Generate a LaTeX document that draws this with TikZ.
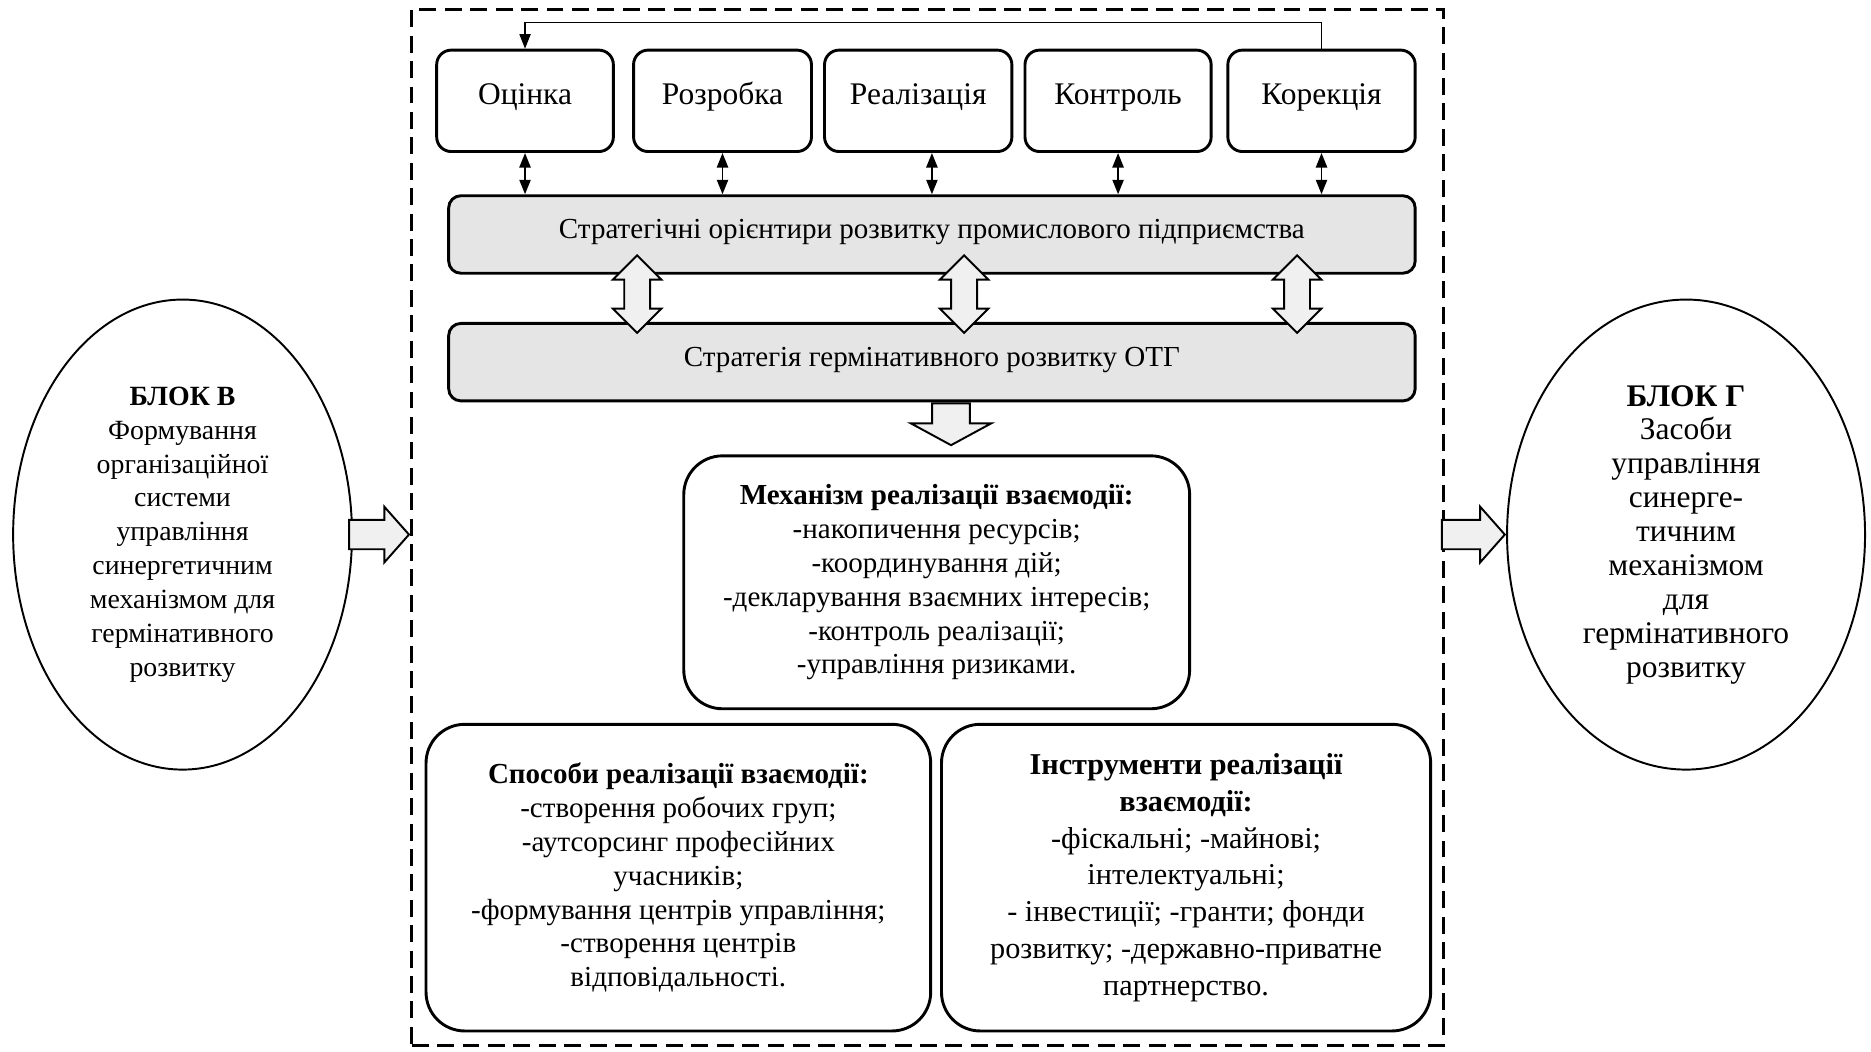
\documentclass[tikz,border=0pt]{standalone}
\usepackage{fontspec}
\setmainfont{Liberation Serif}
\usetikzlibrary{arrows.meta,shapes.geometric,shapes.arrows}
\tikzset{
	stage/.style={
		rectangle,
		rounded corners=6pt,
		draw=black, very thick,
		minimum height=41.9pt,
		inner sep=2pt,
		text height=10pt, text depth=6.6pt,
		font=\fontsize{13}{15}\selectfont,
	},
	strat/.style={
		rectangle,
		rounded corners=5pt,
		draw=black, very thick,
		fill=black!10,
		minimum width=399.3pt, minimum height=32pt,
		text height=10pt, text depth=6.6pt,
		font=\fontsize{12}{14}\selectfont,
	},
	info/.style={
		rectangle,
		rounded corners=16pt,
		draw=black, very thick,
		align=center,
		inner sep=0pt,
		font=\fontsize{12}{14}\selectfont,
	},
	block/.style={
		ellipse,
		draw=black, thick,
		align=center,
		inner sep=0pt,
		minimum height=194.2pt,
	},
	twoway/.style={
		double arrow,
		draw=black, thick,
		fill=black!6,
		rotate=90,
		inner sep=0pt,
		text height=9.9pt, text depth=0pt,
		minimum height=32pt, minimum width=19.2pt,
		double arrow head extend=4.65pt,
	},
	oneway/.style={
		single arrow,
		draw=black, thick,
		fill=black!6,
		inner sep=0pt,
		text height=11.3pt, text depth=0pt,
		minimum width=22.2pt,
		single arrow head extend=5.45pt,
		single arrow tip angle=97,
	},
	frame/.style={
		rectangle,
		draw=black, very thick,
		dash pattern=on 7pt off 3.5pt,
		inner sep=0pt,
	},
}

\begin{document}
\begin{tikzpicture}[x=0.493pt,y=-0.493pt,>={Triangle[length=6pt,width=4.6pt]}]
	\useasboundingbox (0,0) rectangle (1568,880.8);
	
	% dashed frame round the middle part
	\node[frame, minimum width=426.4pt, minimum height=427.9pt] (frame) at (777.5,442) {};
	
	% row of stages
	\node[stage, minimum width=73pt] (ocin) at (440,84.5) {Оцінка};
	\node[stage, minimum width=73.5pt] (rozr) at (605.5,84.5) {Розробка};
	\node[stage, minimum width=77.4pt] (real) at (769.5,84.5) {Реалізація};
	\node[stage, minimum width=76.9pt] (kontr) at (937,84.5) {Контроль};
	\node[stage, minimum width=77.4pt] (korek) at (1107.5,84.5) {Корекція};
	
	% strategy boxes
	\node[strat] (orient) at (781,196.5) {Стратегічні орієнтири розвитку промислового підприємства};
	\node[strat] (germ) at (781,303.5) {Стратегія гермінативного розвитку ОТГ};
	
	% mechanism, ways and tools
	\node[info, minimum width=209pt, minimum height=104.5pt] (mech) at (785,488)
	{
		\textbf{Механізм реалізації взаємодії:}\\
		-накопичення ресурсів;\\
		-координування дій;\\
		-декларування взаємних інтересів;\\
		-контроль реалізації;\\
		-управління ризиками.
	};
	
	\node[info, minimum width=208.5pt, minimum height=126.7pt] (ways) at (568.5,735.5)
	{
		\textbf{Способи реалізації взаємодії:}\\
		-створення робочих груп;\\
		-аутсорсинг професійних\\
		учасників;\\
		-формування центрів управління;\\
		-створення центрів\\
		відповідальності.
	};
	
	\node[info, minimum width=202.1pt, minimum height=126.7pt,
	font=\fontsize{12.5}{15.2}\selectfont] (tools) at (994,735.5)
	{
		\textbf{Інструменти реалізації}\\
		\textbf{взаємодії:}\\
		-фіскальні; -майнові;\\
		інтелектуальні;\\
		- інвестиції; -гранти; фонди\\
		розвитку; -державно-приватне\\
		партнерство.
	};
	
	% side blocks
	\node[block, minimum width=140pt, font=\fontsize{11.5}{14}\selectfont] (blockv) at (153,448)
	{
		\textbf{БЛОК В}\\
		Формування\\
		організаційної\\
		системи\\
		управління\\
		синергетичним\\
		механізмом для\\
		гермінативного\\
		розвитку
	};
	
	\node[block, minimum width=147.9pt, font=\fontsize{13}{14}\selectfont] (blockg) at (1413,448)
	{
		\textbf{БЛОК Г}\\
		Засоби\\
		управління\\
		синерге-\\
		тичним\\
		механізмом\\
		для\\
		гермінативного\\
		розвитку
	};
	
	% hollow arrows
	\node[twoway] (link1) at (534,246.5) {};
	\node[twoway] (link2) at (808,246.5) {};
	\node[twoway] (link3) at (1087,246.5) {};
	\node[oneway, rotate=-90, text height=14.8pt, minimum width=32.5pt, minimum height=17.3pt,
	single arrow head extend=8.85pt, single arrow tip angle=123, anchor=tail] (down)
	at ([xshift=7.9pt]germ.south) {};
	\node[oneway, minimum height=24.7pt, anchor=tip] (tomid) at (frame.west |- blockv.east) {};
	\node[oneway, minimum height=26pt, anchor=tip] (toblock) at (blockg.west) {};
	
	% stages to orientations
	\path[<->, thick]
	(ocin.south) 	edge 	(ocin.south |- orient.north)
	(rozr.south) 	edge 	(rozr.south |- orient.north)
	(real.south -| orient.north) 	edge 	(orient.north)
	(kontr.south) 	edge 	(kontr.south |- orient.north)
	(korek.south) 	edge 	(korek.south |- orient.north)
	; % END PATH
	
	% feedback from correction to assessment
	\draw[->, semithick]
	(korek.north) -- ++(0,-22) -| (ocin.north)
	; % END DRAW
	
\end{tikzpicture}
\end{document}
